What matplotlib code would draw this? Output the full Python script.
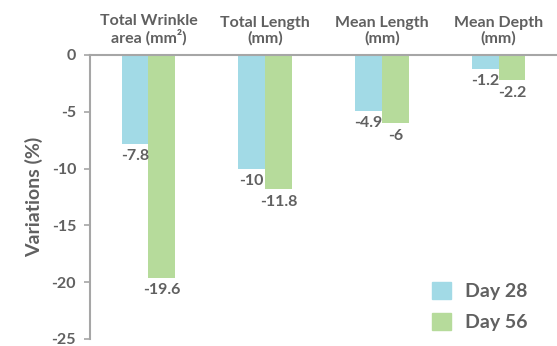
import matplotlib.pyplot as plt
import numpy as np
from matplotlib.patches import Patch

categories = ['Total Wrinkle\narea (mm²)', 'Total Length\n(mm)', 'Mean Length\n(mm)', 'Mean Depth\n(mm)']
day28 = [-7.8, -10, -4.9, -1.2]
day56 = [-19.6, -11.8, -6, -2.2]
day28_labels = ['-7.8', '-10', '-4.9', '-1.2']
day56_labels = ['-19.6', '-11.8', '-6', '-2.2']
yticks = [0, -5, -10, -15, -20, -25]

blue = '#A2DAE6'
green = '#B6DB9B'
text_c = '#606060'
axis_c = '#A6A6A6'

plt.rcParams['font.family'] = ['Lato', 'DejaVu Sans']

fig = plt.figure(figsize=(5.57, 3.46), dpi=100)
ax = fig.add_axes([90 / 557, 1 - 339 / 346, 467 / 557, 284 / 346])

x = np.arange(len(categories))
w = 0.23
ax.bar(x - w / 2, day28, width=w, color=blue, zorder=2)
ax.bar(x + w / 2, day56, width=w, color=green, zorder=2)

for xi, v, lab in zip(x - w / 2, day28, day28_labels):
    ax.annotate(lab, (xi, v), xytext=(0, -4), textcoords='offset points', ha='center', va='top',
                fontsize=11.5, fontweight='bold', color=text_c)
for xi, v, lab in zip(x + w / 2, day56, day56_labels):
    ax.annotate(lab, (xi, v), xytext=(0, -4), textcoords='offset points', ha='center', va='top',
                fontsize=11.5, fontweight='bold', color=text_c)

ax.set_xlim(-0.5, 3.5)
ax.set_ylim(-25, 0)
ax.set_yticks(yticks)
ax.set_yticklabels([str(t) for t in yticks], fontsize=11.5, fontweight='bold', color=text_c)

ax.xaxis.tick_top()
ax.set_xticks(x)
ax.set_xticklabels(categories, fontsize=11.5, fontweight='bold', color=text_c, linespacing=1.1)
ax.tick_params(axis='x', length=0, pad=7)
ax.tick_params(axis='y', length=4, width=1.2, color=axis_c, pad=6)

for s in ['right', 'bottom']:
    ax.spines[s].set_visible(False)
for s in ['left', 'top']:
    ax.spines[s].set_color(axis_c)
    ax.spines[s].set_linewidth(1.5)

ax.set_ylabel('Variations (%)', fontsize=14, fontweight='bold', color=text_c, labelpad=6)

handles = [Patch(color=blue, label='Day 28'), Patch(color=green, label='Day 56')]
leg = ax.legend(handles=handles, loc='lower right', bbox_to_anchor=(0.975, -0.035), frameon=False,
                fontsize=14, handlelength=0.95, handleheight=1.0, labelspacing=0.65, handletextpad=0.75)
for t in leg.get_texts():
    t.set_color(text_c)
    t.set_fontweight('bold')

fig.savefig('out.png', dpi=100)
